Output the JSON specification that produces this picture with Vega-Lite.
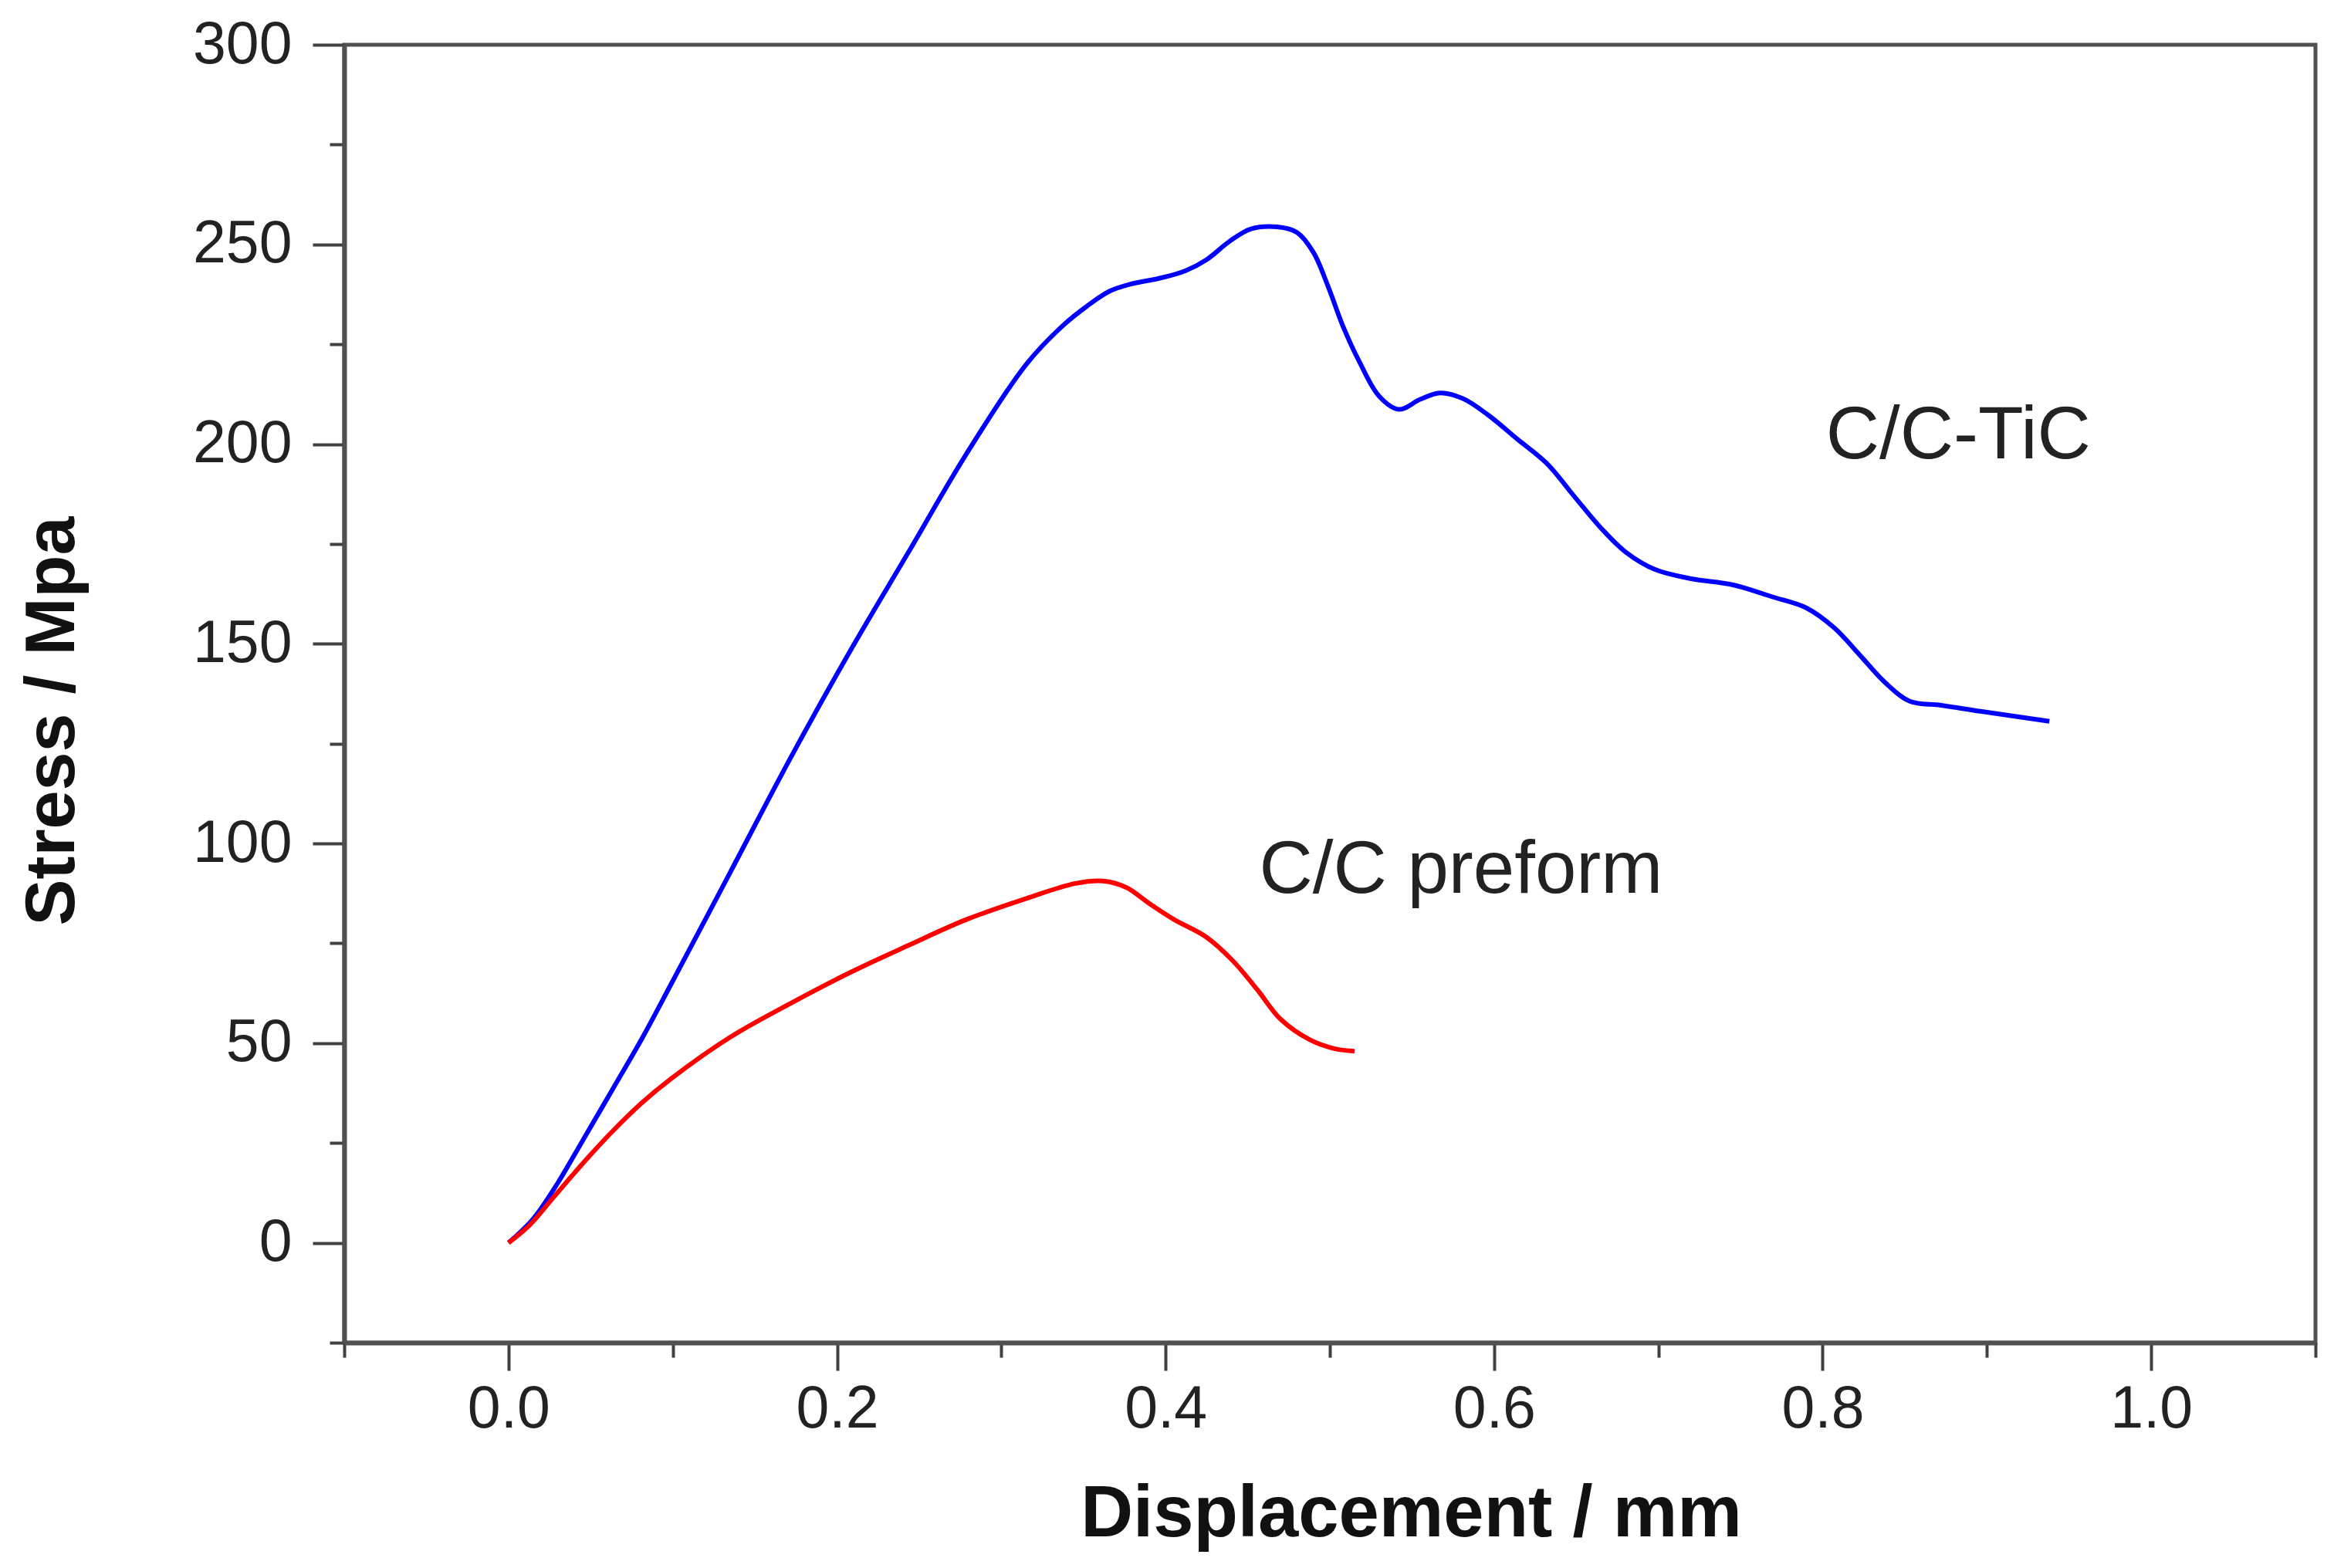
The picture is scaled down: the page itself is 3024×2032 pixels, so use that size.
{
  "$schema": "https://vega.github.io/schema/vega-lite/v6.json",
  "width": 2554,
  "height": 1682,
  "autosize": {"type": "none"},
  "padding": {"left": 446, "top": 58, "right": 24, "bottom": 292},
  "background": "white",
  "config": {
    "view": {"stroke": "#505050", "strokeWidth": 5},
    "font": "Liberation Sans"
  },
  "encoding": {
    "x": {
      "field": "x",
      "type": "quantitative",
      "scale": {"domain": [-0.1, 1.1], "nice": false, "zero": false},
      "axis": {
        "title": "Displacement / mm",
        "values": [-0.1, 0, 0.1, 0.2, 0.3, 0.4, 0.5, 0.6, 0.7, 0.8, 0.9, 1, 1.1],
        "labelExpr": "round(datum.value*10)%2==0 ? format(datum.value,'.1f') : ''",
        "tickSize": {"condition": {"test": "round(datum.value*10)%2==0", "value": 36}, "value": 19},
        "tickWidth": 4,
        "tickColor": "#404040",
        "domainColor": "#505050",
        "domainWidth": 6,
        "grid": false,
        "labelFontSize": 77,
        "labelPadding": 12,
        "labelColor": "#222222",
        "labelFlush": false,
        "labelOverlap": false,
        "titleFontSize": 94,
        "titleFontWeight": "bold",
        "titleColor": "#111111",
        "titleX": 1382,
        "titleY": 250,
        "titleBaseline": "alphabetic",
        "titleAlign": "center"
      }
    },
    "y": {
      "field": "y",
      "type": "quantitative",
      "scale": {"domain": [-25, 300], "nice": false, "zero": false},
      "axis": {
        "title": "Stress / Mpa",
        "values": [-25, 0, 25, 50, 75, 100, 125, 150, 175, 200, 225, 250, 275, 300],
        "labelExpr": "datum.value%50==0 ? datum.label : ''",
        "tickSize": {"condition": {"test": "datum.value%50==0", "value": 41}, "value": 19},
        "tickWidth": 4,
        "tickColor": "#404040",
        "domainColor": "#505050",
        "domainWidth": 6,
        "grid": false,
        "labelFontSize": 77,
        "labelPadding": 27,
        "labelColor": "#222222",
        "labelFlush": false,
        "labelOverlap": false,
        "titleFontSize": 90,
        "titleFontWeight": "bold",
        "titleColor": "#111111",
        "titleAngle": -90,
        "titleX": -378,
        "titleY": 876,
        "titleBaseline": "middle",
        "titleAlign": "center"
      }
    }
  },
  "layer": [
    {
      "data": {
        "values": [
          {"series": "C/C-TiC", "x": 0.0, "y": 0},
          {"series": "C/C-TiC", "x": 0.015, "y": 6},
          {"series": "C/C-TiC", "x": 0.03, "y": 15},
          {"series": "C/C-TiC", "x": 0.045, "y": 25.5},
          {"series": "C/C-TiC", "x": 0.063, "y": 38.2},
          {"series": "C/C-TiC", "x": 0.081, "y": 51},
          {"series": "C/C-TiC", "x": 0.099, "y": 64.8},
          {"series": "C/C-TiC", "x": 0.135, "y": 92.8},
          {"series": "C/C-TiC", "x": 0.171, "y": 120.9},
          {"series": "C/C-TiC", "x": 0.207, "y": 147.5},
          {"series": "C/C-TiC", "x": 0.243, "y": 172.6},
          {"series": "C/C-TiC", "x": 0.279, "y": 197.7},
          {"series": "C/C-TiC", "x": 0.315, "y": 219.9},
          {"series": "C/C-TiC", "x": 0.337, "y": 229.5},
          {"series": "C/C-TiC", "x": 0.352, "y": 234.5},
          {"series": "C/C-TiC", "x": 0.366, "y": 238.3},
          {"series": "C/C-TiC", "x": 0.38, "y": 240.2},
          {"series": "C/C-TiC", "x": 0.396, "y": 241.5},
          {"series": "C/C-TiC", "x": 0.412, "y": 243.4},
          {"series": "C/C-TiC", "x": 0.425, "y": 246.2},
          {"series": "C/C-TiC", "x": 0.439, "y": 250.8},
          {"series": "C/C-TiC", "x": 0.452, "y": 253.9},
          {"series": "C/C-TiC", "x": 0.468, "y": 254.4},
          {"series": "C/C-TiC", "x": 0.48, "y": 253.0},
          {"series": "C/C-TiC", "x": 0.49, "y": 248.0},
          {"series": "C/C-TiC", "x": 0.499, "y": 239.4},
          {"series": "C/C-TiC", "x": 0.508, "y": 229.5},
          {"series": "C/C-TiC", "x": 0.518, "y": 220.6},
          {"series": "C/C-TiC", "x": 0.53, "y": 212.0},
          {"series": "C/C-TiC", "x": 0.542, "y": 208.7},
          {"series": "C/C-TiC", "x": 0.555, "y": 211.2},
          {"series": "C/C-TiC", "x": 0.567, "y": 212.8},
          {"series": "C/C-TiC", "x": 0.581, "y": 211.4},
          {"series": "C/C-TiC", "x": 0.596, "y": 207.4},
          {"series": "C/C-TiC", "x": 0.614, "y": 201.3},
          {"series": "C/C-TiC", "x": 0.632, "y": 195.2},
          {"series": "C/C-TiC", "x": 0.649, "y": 186.8},
          {"series": "C/C-TiC", "x": 0.665, "y": 179.0},
          {"series": "C/C-TiC", "x": 0.68, "y": 173.0},
          {"series": "C/C-TiC", "x": 0.698, "y": 168.6},
          {"series": "C/C-TiC", "x": 0.72, "y": 166.3},
          {"series": "C/C-TiC", "x": 0.745, "y": 164.8},
          {"series": "C/C-TiC", "x": 0.769, "y": 161.8},
          {"series": "C/C-TiC", "x": 0.79, "y": 159.0},
          {"series": "C/C-TiC", "x": 0.807, "y": 154.0},
          {"series": "C/C-TiC", "x": 0.823, "y": 147.0},
          {"series": "C/C-TiC", "x": 0.838, "y": 140.3},
          {"series": "C/C-TiC", "x": 0.853, "y": 135.6},
          {"series": "C/C-TiC", "x": 0.872, "y": 134.6},
          {"series": "C/C-TiC", "x": 0.896, "y": 133.1},
          {"series": "C/C-TiC", "x": 0.938, "y": 130.6},
          {"series": "C/C preform", "x": 0.0, "y": 0},
          {"series": "C/C preform", "x": 0.013, "y": 4.5},
          {"series": "C/C preform", "x": 0.027, "y": 11.2},
          {"series": "C/C preform", "x": 0.045, "y": 19.8},
          {"series": "C/C preform", "x": 0.063, "y": 27.8},
          {"series": "C/C preform", "x": 0.081, "y": 35},
          {"series": "C/C preform", "x": 0.099, "y": 41.1},
          {"series": "C/C preform", "x": 0.135, "y": 51.5},
          {"series": "C/C preform", "x": 0.171, "y": 59.8},
          {"series": "C/C preform", "x": 0.207, "y": 67.5},
          {"series": "C/C preform", "x": 0.243, "y": 74.4},
          {"series": "C/C preform", "x": 0.279, "y": 81.0},
          {"series": "C/C preform", "x": 0.315, "y": 86.2},
          {"series": "C/C preform", "x": 0.345, "y": 90.0},
          {"series": "C/C preform", "x": 0.362, "y": 90.6},
          {"series": "C/C preform", "x": 0.376, "y": 89.0},
          {"series": "C/C preform", "x": 0.39, "y": 85.0},
          {"series": "C/C preform", "x": 0.405, "y": 81.0},
          {"series": "C/C preform", "x": 0.425, "y": 76.5},
          {"series": "C/C preform", "x": 0.441, "y": 70.6},
          {"series": "C/C preform", "x": 0.456, "y": 63.3},
          {"series": "C/C preform", "x": 0.47, "y": 56.0},
          {"series": "C/C preform", "x": 0.488, "y": 50.8},
          {"series": "C/C preform", "x": 0.503, "y": 48.6},
          {"series": "C/C preform", "x": 0.515, "y": 48.0}
        ]
      },
      "mark": {"type": "line", "interpolate": "catmull-rom", "strokeWidth": 6, "clip": true},
      "encoding": {
        "color": {
          "field": "series",
          "type": "nominal",
          "scale": {"domain": ["C/C-TiC", "C/C preform"], "range": ["#0000ff", "#ff0000"]},
          "legend": null
        }
      }
    },
    {
      "data": {
        "values": [
          {"label": "C/C-TiC", "x": 0.802, "y": 202},
          {"label": "C/C preform", "x": 0.457, "y": 93.3}
        ]
      },
      "mark": {"type": "text", "align": "left", "baseline": "middle", "fontSize": 96, "color": "#222222", "font": "Liberation Sans"},
      "encoding": {
        "text": {"field": "label", "type": "nominal"}
      }
    }
  ]
}
